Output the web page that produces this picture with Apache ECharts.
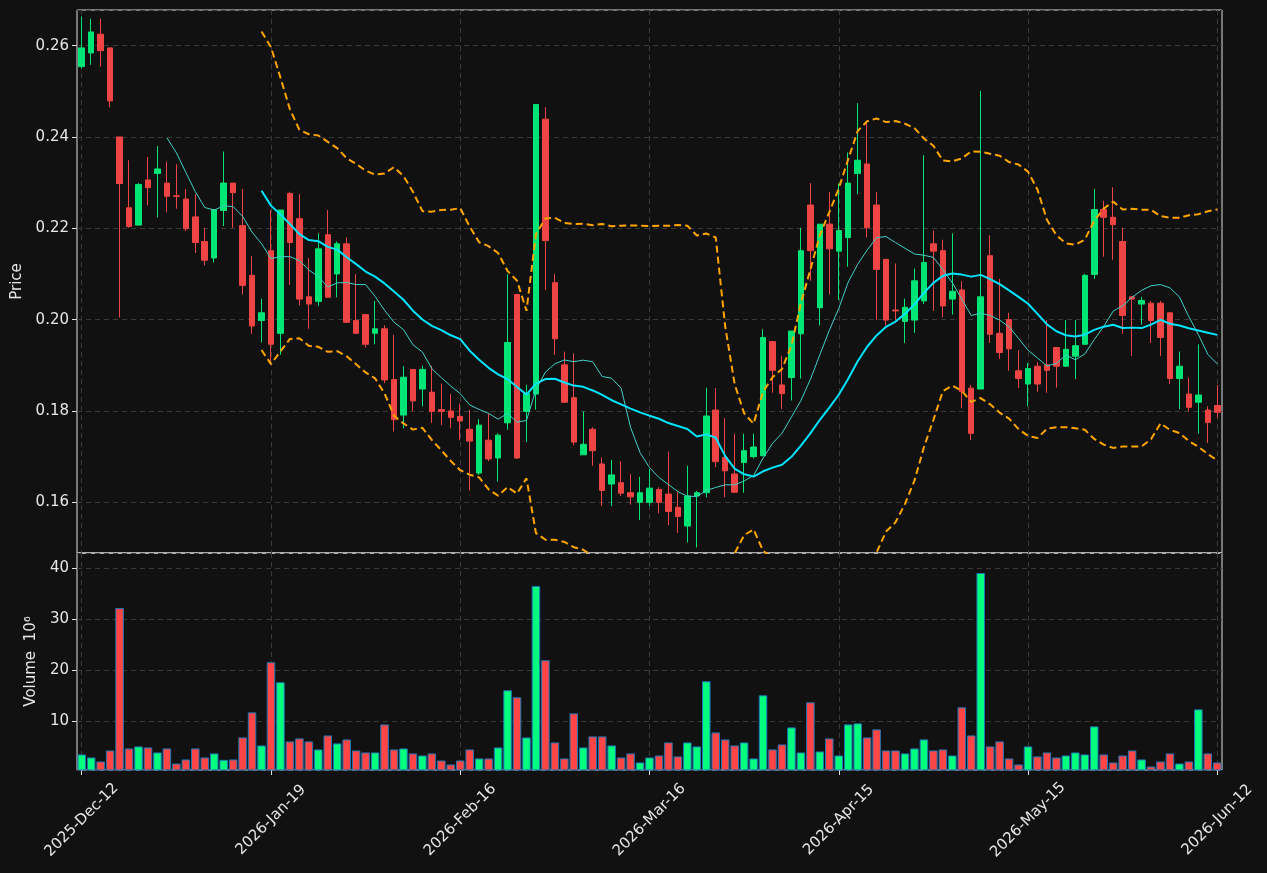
<!DOCTYPE html>
<html>
<head>
<meta charset="utf-8">
<script src="https://cdn.jsdelivr.net/npm/echarts@6/dist/echarts.min.js"></script>
<style>
html, body { margin: 0; padding: 0; background: #111111; }
#main { width: 1267px; height: 873px; }
</style>
</head>
<body>
<div id="main"></div>
<script>
var upColor = '#00e676';
var downColor = '#ef4444';
var volUpColor = '#00ff7f';
var volDownColor = '#ff4545';

// tick labels every 20 bars
var tickLabels = ['2025-Dec-12', '2026-Jan-19', '2026-Feb-16', '2026-Mar-16', '2026-Apr-15', '2026-May-15', '2026-Jun-12'];

var opens = [
    0.2554, 0.2584, 0.2625, 0.2595, 0.2400, 0.2245, 0.2207, 0.2306, 0.2320, 0.2299,
    0.2271, 0.2264, 0.2225, 0.2171, 0.2135, 0.2239, 0.2299, 0.2206, 0.2097, 0.1998,
    0.2151, 0.1970, 0.2276, 0.2221, 0.2050, 0.2040, 0.2186, 0.2100, 0.2166, 0.1998,
    0.2011, 0.1970, 0.1980, 0.1869, 0.1791, 0.1891, 0.1848, 0.1841, 0.1803, 0.1800,
    0.1788, 0.1760, 0.1664, 0.1736, 0.1697, 0.1774, 0.2055, 0.1799, 0.1837, 0.2439,
    0.2081, 0.1901, 0.1829, 0.1704, 0.1760, 0.1684, 0.1640, 0.1643, 0.1621, 0.1600,
    0.1600, 0.1628, 0.1618, 0.1589, 0.1548, 0.1614, 0.1621, 0.1802, 0.1698, 0.1662,
    0.1687, 0.1700, 0.1702, 0.1952, 0.1857, 0.1873, 0.1969, 0.2251, 0.2026, 0.2209,
    0.2150, 0.2180, 0.2320, 0.2341, 0.2251, 0.2132, 0.2021, 0.1996, 0.1999, 0.2041,
    0.2166, 0.2151, 0.2045, 0.2065, 0.1850, 0.1848, 0.2140, 0.1970, 0.2000, 0.1888,
    0.1859, 0.1898, 0.1901, 0.1939, 0.1898, 0.1920, 0.1946, 0.2099, 0.2241, 0.2224,
    0.2171, 0.2050, 0.2034, 0.2036, 0.2036, 0.2015, 0.1871, 0.1837, 0.1819, 0.1802,
    0.1812
];
var closes = [
    0.2595, 0.2630, 0.2589, 0.2479, 0.2298, 0.2204, 0.2296, 0.2289, 0.2330, 0.2270,
    0.2270, 0.2199, 0.2169, 0.2130, 0.2241, 0.2299, 0.2278, 0.2075, 0.1986, 0.2015,
    0.1946, 0.2240, 0.2169, 0.2045, 0.2034, 0.2155, 0.2049, 0.2166, 0.1994, 0.1970,
    0.1946, 0.1980, 0.1868, 0.1781, 0.1874, 0.1822, 0.1891, 0.1799, 0.1799, 0.1786,
    0.1778, 0.1734, 0.1769, 0.1695, 0.1747, 0.1950, 0.1697, 0.1838, 0.2471, 0.2173,
    0.1958, 0.1819, 0.1732, 0.1727, 0.1713, 0.1626, 0.1660, 0.1620, 0.1612, 0.1621,
    0.1631, 0.1600, 0.1580, 0.1569, 0.1614, 0.1621, 0.1789, 0.1689, 0.1669, 0.1622,
    0.1713, 0.1721, 0.1961, 0.1889, 0.1838, 0.1975, 0.2151, 0.2151, 0.2209, 0.2155,
    0.2195, 0.2299, 0.2349, 0.2201, 0.2110, 0.1999, 0.2019, 0.2027, 0.2085, 0.2125,
    0.2150, 0.2030, 0.2062, 0.1842, 0.1751, 0.2050, 0.1968, 0.1928, 0.1936, 0.1871,
    0.1893, 0.1859, 0.1889, 0.1898, 0.1935, 0.1943, 0.2097, 0.2241, 0.2224, 0.2208,
    0.2009, 0.2045, 0.2042, 0.1998, 0.1961, 0.1871, 0.1898, 0.1808, 0.1835, 0.1775,
    0.1797
];
var highs = [
    0.2664, 0.2659, 0.2659, 0.2595, 0.2400, 0.2349, 0.2299, 0.2356, 0.2380, 0.2346,
    0.2340, 0.2286, 0.2275, 0.2201, 0.2241, 0.2368, 0.2299, 0.2286, 0.2139, 0.2046,
    0.2240, 0.2240, 0.2280, 0.2275, 0.2135, 0.2189, 0.2240, 0.2171, 0.2180, 0.2100,
    0.2011, 0.2041, 0.1988, 0.1967, 0.1898, 0.1891, 0.1899, 0.1899, 0.1860, 0.1837,
    0.1816, 0.1802, 0.1782, 0.1794, 0.1751, 0.2100, 0.2055, 0.1857, 0.2471, 0.2465,
    0.2100, 0.1930, 0.1926, 0.1799, 0.1764, 0.1698, 0.1693, 0.1690, 0.1662, 0.1656,
    0.1673, 0.1633, 0.1711, 0.1622, 0.1680, 0.1625, 0.1851, 0.1850, 0.1784, 0.1750,
    0.1750, 0.1750, 0.1979, 0.1952, 0.1921, 0.1975, 0.2201, 0.2299, 0.2209, 0.2279,
    0.2298, 0.2366, 0.2474, 0.2431, 0.2279, 0.2132, 0.2123, 0.2046, 0.2112, 0.2360,
    0.2195, 0.2175, 0.2189, 0.2084, 0.1857, 0.2501, 0.2185, 0.2089, 0.2015, 0.1933,
    0.1905, 0.1907, 0.1999, 0.1939, 0.1999, 0.1999, 0.2100, 0.2286, 0.2260, 0.2290,
    0.2201, 0.2051, 0.2050, 0.2041, 0.2041, 0.2015, 0.1930, 0.1873, 0.1946, 0.1810,
    0.1857
];
var lows = [
    0.2550, 0.2558, 0.2554, 0.2465, 0.2005, 0.2201, 0.2207, 0.2250, 0.2224, 0.2235,
    0.2243, 0.2194, 0.2146, 0.2119, 0.2125, 0.2205, 0.2201, 0.2055, 0.1969, 0.1950,
    0.1905, 0.1923, 0.2076, 0.2031, 0.1980, 0.2030, 0.2049, 0.2049, 0.1994, 0.1970,
    0.1939, 0.1946, 0.1861, 0.1755, 0.1762, 0.1800, 0.1810, 0.1774, 0.1769, 0.1762,
    0.1736, 0.1626, 0.1660, 0.1690, 0.1645, 0.1759, 0.1695, 0.1732, 0.1803, 0.2065,
    0.1923, 0.1819, 0.1725, 0.1704, 0.1680, 0.1592, 0.1592, 0.1614, 0.1595, 0.1561,
    0.1592, 0.1576, 0.1550, 0.1533, 0.1512, 0.1501, 0.1611, 0.1677, 0.1611, 0.1622,
    0.1621, 0.1696, 0.1702, 0.1840, 0.1804, 0.1823, 0.1871, 0.2085, 0.1987, 0.2055,
    0.2043, 0.2116, 0.2275, 0.2180, 0.1999, 0.1987, 0.1999, 0.1949, 0.1971, 0.2034,
    0.2019, 0.2005, 0.2011, 0.1806, 0.1736, 0.1848, 0.1949, 0.1914, 0.1888, 0.1850,
    0.1810, 0.1842, 0.1840, 0.1851, 0.1898, 0.1870, 0.1946, 0.2089, 0.2138, 0.2131,
    0.1969, 0.1920, 0.1989, 0.1949, 0.1920, 0.1859, 0.1804, 0.1800, 0.1750, 0.1730,
    0.1785
];
// volume in millions
var volumes = [
    3.53, 2.94, 2.16, 4.31, 32.16, 4.71, 5.10, 4.90, 3.92, 4.71,
    1.76, 2.55, 4.71, 2.94, 3.73, 2.48, 2.55, 6.86, 11.76, 5.29,
    21.57, 17.65, 6.08, 6.67, 6.08, 4.51, 7.25, 5.69, 6.47, 4.31,
    3.92, 3.92, 9.41, 4.51, 4.71, 3.73, 3.33, 3.73, 2.35, 1.57,
    2.35, 4.51, 2.75, 2.75, 4.90, 16.08, 14.71, 6.86, 36.47, 21.96,
    5.88, 2.75, 11.57, 4.90, 7.06, 7.06, 5.29, 2.94, 3.73, 1.96,
    2.94, 3.33, 5.88, 3.14, 5.88, 5.10, 17.84, 7.84, 6.47, 5.29,
    5.88, 2.75, 15.10, 4.51, 5.49, 8.82, 3.92, 13.73, 4.12, 6.67,
    3.33, 9.41, 9.61, 6.86, 8.43, 4.31, 4.31, 3.73, 4.71, 6.47,
    4.31, 4.51, 3.33, 12.75, 7.25, 39.02, 5.10, 6.08, 2.75, 1.57,
    5.10, 3.14, 3.92, 2.94, 3.33, 3.92, 3.53, 9.02, 3.53, 1.96,
    3.33, 4.31, 2.55, 1.18, 2.16, 3.73, 1.76, 2.16, 12.35, 3.73,
    1.96
];

var categories = [];
for (var i = 0; i < closes.length; i++) categories.push(String(i));

function calculateMA(dayCount, data) {
    var result = [];
    for (var i = 0; i < data.length; i++) {
        if (i < dayCount - 1) { result.push('-'); continue; }
        var sum = 0;
        for (var j = 0; j < dayCount; j++) sum += data[i - j];
        result.push(+(sum / dayCount).toFixed(5));
    }
    return result;
}

function calculateBand(dayCount, k, data) {
    var upper = [], lower = [];
    for (var i = 0; i < data.length; i++) {
        if (i < dayCount - 1) { upper.push('-'); lower.push('-'); continue; }
        var sum = 0, sq = 0;
        for (var j = 0; j < dayCount; j++) sum += data[i - j];
        var mean = sum / dayCount;
        for (var j = 0; j < dayCount; j++) sq += Math.pow(data[i - j] - mean, 2);
        var sd = Math.sqrt(sq / dayCount);
        upper.push(+(mean + k * sd).toFixed(5));
        lower.push(+(mean - k * sd).toFixed(5));
    }
    return { upper: upper, lower: lower };
}

var candleData = [];
var volumeData = [];
for (var i = 0; i < closes.length; i++) {
    candleData.push([opens[i], closes[i], lows[i], highs[i]]);
    volumeData.push({
        value: volumes[i],
        itemStyle: { color: closes[i] >= opens[i] ? volUpColor : volDownColor }
    });
}
var band = calculateBand(20, 2, closes);

var fontFamily = 'DejaVu Sans';
var gridLine = { show: true, lineStyle: { color: '#3a3a3a', type: [5, 4], width: 1 } };

var myChart = echarts.init(document.getElementById('main'));
var option = {
    backgroundColor: '#111111',
    animation: false,
    textStyle: { fontFamily: fontFamily },
    grid: [{
        left: 77, right: 45, top: 10, height: 543,
        show: true, borderColor: '#e0e0e0', borderWidth: 1
    }, {
        left: 77, right: 45, top: 553, height: 217,
        show: true, borderColor: '#e0e0e0', borderWidth: 1
    }],
    xAxis: [{
        type: 'category',
        data: categories,
        gridIndex: 0,
        boundaryGap: true,
        axisLine: { show: false },
        axisTick: { show: false },
        axisLabel: { show: false },
        splitLine: Object.assign({ interval: 19, alignWithLabel: true }, gridLine)
    }, {
        type: 'category',
        data: categories,
        gridIndex: 1,
        boundaryGap: true,
        axisLine: { show: false },
        axisTick: { show: true, interval: 19, alignWithLabel: true, length: 5, lineStyle: { color: '#e0e0e0' } },
        axisLabel: {
            interval: 19,
            rotate: 45,
            align: 'center',
            verticalAlign: 'middle',
            margin: 50,
            color: '#e6e6e6',
            fontSize: 15,
            fontFamily: fontFamily,
            formatter: function (value, index) {
                return index % 20 === 0 ? tickLabels[index / 20] : '';
            }
        },
        splitLine: Object.assign({ interval: 19, alignWithLabel: true }, gridLine)
    }],
    yAxis: [{
        type: 'value',
        gridIndex: 0,
        min: 0.1489,
        max: 0.2678,
        splitNumber: 6,
        name: 'Price',
        nameLocation: 'middle',
        nameRotate: 90,
        nameGap: 48,
        nameTextStyle: { color: '#e6e6e6', fontSize: 15, fontFamily: fontFamily },
        axisLine: { show: false },
        axisTick: { show: true, length: 5, lineStyle: { color: '#e0e0e0' } },
        axisLabel: {
            color: '#e6e6e6', fontSize: 15, margin: 8, fontFamily: fontFamily,
            showMinLabel: false, showMaxLabel: false,
            formatter: function (v) { return v.toFixed(2); }
        },
        splitLine: gridLine
    }, {
        type: 'value',
        gridIndex: 1,
        min: 0.49,
        max: 42.93,
        splitNumber: 4,
        name: 'Volume  10\u2076',
        nameLocation: 'middle',
        nameRotate: 90,
        nameGap: 35,
        nameTextStyle: { color: '#e6e6e6', fontSize: 15, fontFamily: fontFamily },
        axisLine: { show: false },
        axisTick: { show: true, length: 5, lineStyle: { color: '#e0e0e0' } },
        axisLabel: {
            color: '#e6e6e6', fontSize: 15, margin: 8, fontFamily: fontFamily,
            showMinLabel: false, showMaxLabel: false
        },
        splitLine: gridLine
    }],
    series: [
        {
            name: 'Candles',
            type: 'candlestick',
            xAxisIndex: 0,
            yAxisIndex: 0,
            barWidth: 6,
            data: candleData,
            itemStyle: {
                color: upColor,
                color0: downColor,
                borderColor: upColor,
                borderColor0: downColor,
                borderWidth: 1
            }
        },
        {
            name: 'MA10',
            type: 'line',
            xAxisIndex: 0,
            yAxisIndex: 0,
            data: calculateMA(10, closes),
            showSymbol: false,
            symbol: 'none',
            lineStyle: { color: '#40d0c8', width: 1 }
        },
        {
            name: 'MA20',
            type: 'line',
            xAxisIndex: 0,
            yAxisIndex: 0,
            data: calculateMA(20, closes),
            showSymbol: false,
            symbol: 'none',
            lineStyle: { color: '#00e5ff', width: 2 }
        },
        {
            name: 'Upper',
            type: 'line',
            xAxisIndex: 0,
            yAxisIndex: 0,
            data: band.upper,
            showSymbol: false,
            symbol: 'none',
            lineStyle: { color: '#ffa500', width: 2, type: [7, 4] }
        },
        {
            name: 'Lower',
            type: 'line',
            xAxisIndex: 0,
            yAxisIndex: 0,
            data: band.lower,
            showSymbol: false,
            symbol: 'none',
            lineStyle: { color: '#ffa500', width: 2, type: [7, 4] }
        },
        {
            name: 'Volume',
            type: 'bar',
            xAxisIndex: 1,
            yAxisIndex: 1,
            barWidth: '90%',
            data: volumeData,
            itemStyle: { borderColor: '#1f77b4', borderWidth: 1 }
        }
    ]
};
myChart.setOption(option);
</script>
</body>
</html>
